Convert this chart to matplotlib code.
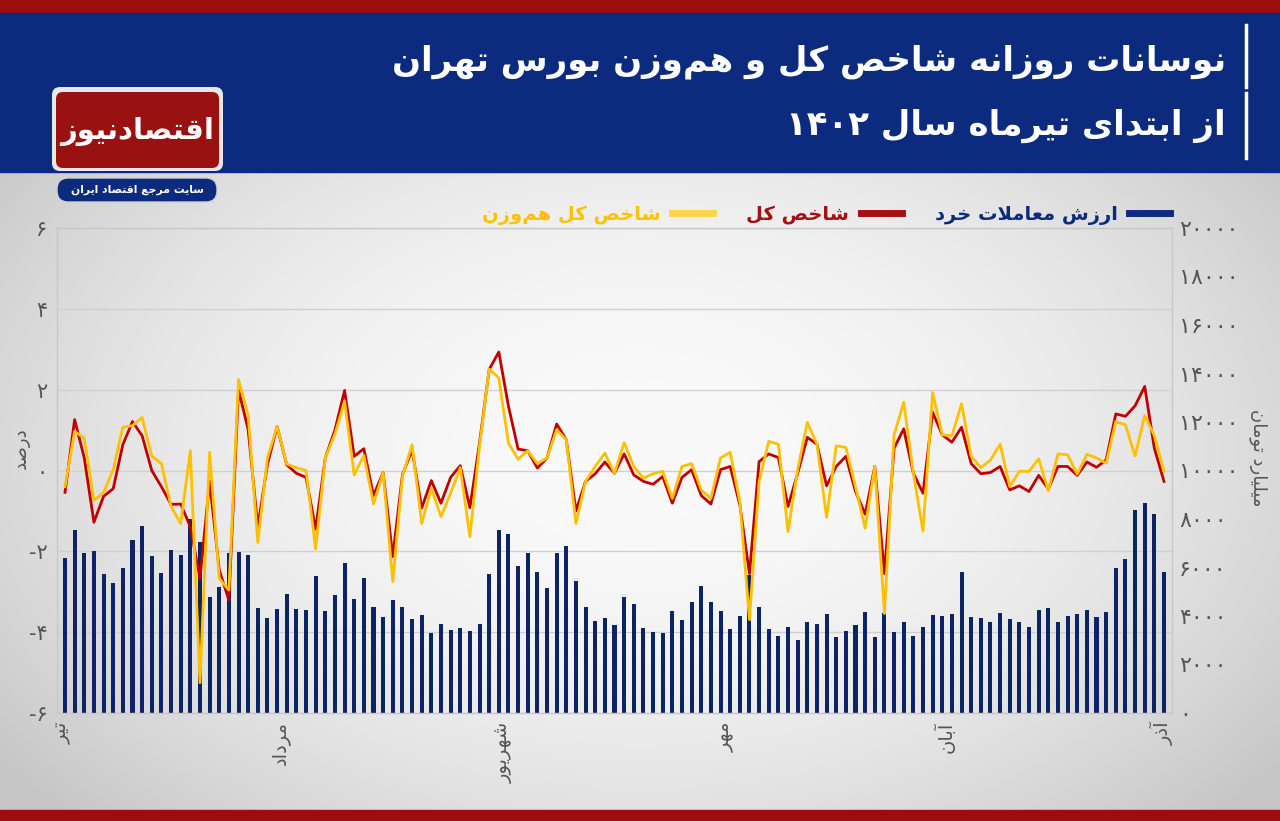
import re
import numpy as np
import matplotlib
matplotlib.use('Agg')
import matplotlib.pyplot as plt
from matplotlib.patches import Rectangle, FancyBboxPatch
from matplotlib.lines import Line2D

# ارزش معاملات خرد (میلیارد تومان)
trade = [6400, 7530, 6600, 6690, 5740, 5370, 6000, 7130, 7700, 6470,
         5770, 6730, 6500, 8010, 7050, 4790, 5180, 6580, 6620, 6530,
         4310, 3910, 4280, 4920, 4270, 4230, 5670, 4190, 4860, 6170,
         4710, 5580, 4390, 3950, 4640, 4370, 3860, 4060, 3280, 3680,
         3430, 3500, 3390, 3650, 5740, 7550, 7390, 6070, 6580, 5830,
         5140, 6580, 6870, 5430, 4370, 3800, 3900, 3610, 4780, 4490,
         3510, 3350, 3310, 4210, 3830, 4590, 5220, 4590, 4200, 3480,
         4020, 5700, 4380, 3470, 3170, 3530, 3000, 3750, 3690, 4090,
         3150, 3370, 3610, 4150, 3150, 4120, 3360, 3760, 3170, 3530,
         4040, 3980, 4100, 5810, 3950, 3900, 3750, 4130, 3860, 3770,
         3530, 4260, 4320, 3760, 3990, 4080, 4260, 3950, 4150, 5980,
         6330, 8390, 8680, 8210, 5810]

# شاخص کل (درصد)
total = [-0.54, 1.26, 0.31, -1.28, -0.64, -0.45, 0.64, 1.21, 0.86, 0.00,
         -0.40, -0.84, -0.83, -1.39, -2.67, -0.27, -2.46, -3.21, 2.00, 1.01,
         -1.39, 0.15, 1.09, 0.14, -0.07, -0.17, -1.45, 0.31, 1.00, 1.98,
         0.35, 0.54, -0.62, -0.05, -2.13, -0.11, 0.51, -0.93, -0.25, -0.81,
         -0.17, 0.12, -0.92, 0.68, 2.50, 2.93, 1.59, 0.53, 0.49, 0.06,
         0.31, 1.15, 0.76, -1.00, -0.27, -0.08, 0.21, -0.07, 0.41, -0.11,
         -0.27, -0.34, -0.15, -0.81, -0.17, 0.02, -0.62, -0.83, 0.02, 0.10,
         -0.85, -2.55, 0.22, 0.41, 0.32, -0.89, -0.07, 0.82, 0.65, -0.38,
         0.10, 0.35, -0.52, -1.08, 0.10, -2.55, 0.55, 1.03, -0.07, -0.56,
         1.44, 0.88, 0.70, 1.07, 0.17, -0.08, -0.05, 0.10, -0.48, -0.38,
         -0.52, -0.12, -0.46, 0.10, 0.10, -0.12, 0.21, 0.08, 0.26, 1.40,
         1.34, 1.60, 2.08, 0.55, -0.27]

# شاخص کل هم‌وزن (درصد)
equal = [-0.40, 0.97, 0.80, -0.74, -0.55, 0.02, 1.07, 1.11, 1.31, 0.36,
         0.17, -0.89, -1.31, 0.49, -5.25, 0.45, -2.67, -2.96, 2.25, 1.36,
         -1.78, 0.31, 1.09, 0.16, 0.07, 0.00, -1.94, 0.31, 0.90, 1.71,
         -0.11, 0.37, -0.83, -0.05, -2.75, -0.15, 0.64, -1.31, -0.44, -1.14,
         -0.56, 0.07, -1.64, 0.60, 2.51, 2.29, 0.68, 0.28, 0.49, 0.17,
         0.31, 1.01, 0.76, -1.31, -0.27, 0.10, 0.43, -0.07, 0.69, 0.10,
         -0.19, -0.08, -0.02, -0.69, 0.10, 0.17, -0.48, -0.69, 0.31, 0.45,
         -0.77, -3.69, -0.27, 0.72, 0.65, -1.51, 0.02, 1.19, 0.65, -1.16,
         0.61, 0.57, -0.40, -1.43, 0.10, -3.54, 0.88, 1.69, -0.07, -1.50,
         1.93, 0.88, 0.86, 1.65, 0.35, 0.07, 0.26, 0.65, -0.40, -0.02,
         -0.02, 0.29, -0.50, 0.41, 0.39, -0.09, 0.40, 0.31, 0.18, 1.21,
         1.13, 0.36, 1.36, 0.86, -0.02]

months = ['تیر', 'مرداد', 'شهریور', 'مهر', 'آبان', 'آذر']
month_pos = [-0.3, 22.3, 45.5, 68.5, 91.3, 113.8]

title1 = 'نوسانات روزانه شاخص کل و هم\u200cوزن بورس تهران'
title2 = 'از ابتدای تیرماه سال ۱۴۰۲'

BLUE = '#0c2466'
RED = '#c00000'
YEL = '#ffc000'
HEAD = '#0d2b7e'
DARKRED = '#9e0d0d'

# --- persian shaping (matplotlib has no bidi / joining)
FORMS = {'ا': (0xFE8D, 0xFE8E), 'آ': (0xFE81, 0xFE82), 'د': (0xFEA9, 0xFEAA),
         'ذ': (0xFEAB, 0xFEAC), 'ر': (0xFEAD, 0xFEAE), 'ز': (0xFEAF, 0xFEB0),
         'ژ': (0xFB8A, 0xFB8B), 'و': (0xFEED, 0xFEEE)}
for ch, base in [('ب', 0xFE8F), ('پ', 0xFB56), ('ت', 0xFE95), ('ث', 0xFE99),
                 ('ج', 0xFE9D), ('چ', 0xFB7A), ('ح', 0xFEA1), ('خ', 0xFEA5),
                 ('س', 0xFEB1), ('ش', 0xFEB5), ('ص', 0xFEB9), ('ض', 0xFEBD),
                 ('ط', 0xFEC1), ('ظ', 0xFEC5), ('ع', 0xFEC9), ('غ', 0xFECD),
                 ('ف', 0xFED1), ('ق', 0xFED5), ('ک', 0xFB8E), ('گ', 0xFB92),
                 ('ل', 0xFEDD), ('م', 0xFEE1), ('ن', 0xFEE5), ('ه', 0xFEE9),
                 ('ی', 0xFBFC)]:
    FORMS[ch] = (base, base + 1, base + 2, base + 3)


def fa(text):
    out = []
    n = len(text)
    i = 0
    while i < n:
        c = text[i]
        if c not in FORMS:
            if c != '\u200c':
                out.append(c)
            i += 1
            continue
        prev = text[i - 1] if i > 0 else ''
        p = prev in FORMS and len(FORMS[prev]) == 4
        if c == 'ل' and i + 1 < n and text[i + 1] in 'اآ':
            lig = (0xFEFB, 0xFEFC) if text[i + 1] == 'ا' else (0xFEF5, 0xFEF6)
            out.append(chr(lig[1] if p else lig[0]))
            i += 2
            continue
        nxt = text[i + 1] if i + 1 < n else ''
        f = FORMS[c]
        q = nxt in FORMS and len(f) == 4
        if p and q:
            g = f[3]
        elif p:
            g = f[1]
        elif q:
            g = f[2]
        else:
            g = f[0]
        out.append(chr(g))
        i += 1
    s = ''.join(out)[::-1]
    return re.sub(r'[0-9\u06F0-\u06F9]+', lambda m: m.group(0)[::-1], s)


def fd(s):
    return str(s).translate(str.maketrans('0123456789', '۰۱۲۳۴۵۶۷۸۹'))


plt.rcParams['font.family'] = ['DejaVu Sans']

fig = plt.figure(figsize=(12.8, 8.21), dpi=100)

# background in pixel coords
bg = fig.add_axes([0, 0, 1, 1], zorder=-10)
bg.set_xlim(0, 1280)
bg.set_ylim(821, 0)
bg.axis('off')
yy, xx = np.mgrid[0:821:2, 0:1280:2]
g = 0.98 - 0.13 * (((xx - 640) / 640) ** 2 + ((yy - 450) / 420) ** 2)
g = np.clip(g, 0.78, 1)
bg.imshow(np.dstack([g, g, g]), extent=[0, 1280, 821, 0], aspect='auto', zorder=0)
bg.add_patch(Rectangle((0, 0), 1280, 13, color=DARKRED, zorder=1))
bg.add_patch(Rectangle((0, 13), 1280, 159, color=HEAD, zorder=1))
bg.add_patch(Rectangle((0, 810), 1280, 11, color=DARKRED, zorder=1))
bg.plot([1246, 1246], [25, 87], color='white', lw=2.5, zorder=2)
bg.plot([1246, 1246], [93, 158], color='white', lw=2.5, zorder=2)
bg.text(1226, 62, fa(title1), color='white', fontsize=24.5, fontweight='bold',
        ha='right', va='center', zorder=3)
bg.text(1226, 126, fa(title2), color='white', fontsize=24.5, fontweight='bold',
        ha='right', va='center', zorder=3)

# logo
bg.add_patch(FancyBboxPatch((52, 87), 171, 84, boxstyle='round,pad=0,rounding_size=8',
                            fc='#e8e8e8', ec='none', zorder=2))
bg.add_patch(FancyBboxPatch((56, 92), 163, 76, boxstyle='round,pad=0,rounding_size=7',
                            fc='#9a1111', ec='none', zorder=3))
bg.text(137, 131, fa('اقتصادنیوز'), color='white', fontsize=21, fontweight='bold',
        ha='center', va='center', zorder=4)
bg.add_patch(FancyBboxPatch((57, 178), 160, 24, boxstyle='round,pad=0,rounding_size=11',
                            fc=HEAD, ec='#d0d0d0', lw=1, zorder=3))
bg.text(137, 190, fa('سایت مرجع اقتصاد ایران'), color='white', fontsize=7.8,
        fontweight='bold', ha='center', va='center', zorder=4)

# chart
x = np.arange(len(trade))
ax = fig.add_axes([57 / 1280, 1 - 713 / 821, (1172 - 57) / 1280, (713 - 228) / 821])
ax.set_facecolor('none')
for v in np.arange(-6, 7, 2):
    ax.axhline((v + 6) / 12 * 20000, color='#d0d0d0', lw=1, zorder=0)
ax.bar(x, trade, width=0.42, color=BLUE, zorder=2)
ax.set_ylim(0, 20000)
ax.set_xlim(-0.83, len(trade) - 1 + 0.83)

ax2 = ax.twinx()
ax2.plot(x, total, color=RED, lw=2, zorder=3)
ax2.plot(x, equal, color=YEL, lw=2, zorder=4)
ax2.set_ylim(-6, 6)
ax2.yaxis.tick_left()
ax2.set_yticks(np.arange(-6, 7, 2))
ax2.set_yticklabels([('-' if v < 0 else '') + fd(abs(v)) for v in range(-6, 7, 2)],
                    fontsize=15, color='#555555')
ax2.tick_params(length=0, pad=7)
for s in ax2.spines.values():
    s.set_visible(False)

# twinx resets the host axis to the left, so move it back afterwards
ax.yaxis.tick_right()
ax.set_yticks(np.arange(0, 20001, 2000))
ax.set_yticklabels([fd(v) for v in range(0, 20001, 2000)], fontsize=16, color='#555555')
ax.set_xticks(month_pos)
ax.set_xticklabels([fa(m) for m in months], rotation=90, fontsize=14, color='#555555',
                   va='top', ha='center')
ax.tick_params(length=0, pad=6)
ax.tick_params(axis='y', pad=5)
for s in ax.spines.values():
    s.set_color('#c8c8c8')
    s.set_linewidth(1)

bg.text(21, 448, fa('درصد'), rotation=90, fontsize=13, color='#555555',
        ha='center', va='center')
bg.text(1258, 458, fa('میلیارد تومان'), rotation=270, fontsize=13, color='#555555',
        ha='center', va='center')

handles = [Line2D([], [], color='#ffd54a', lw=5),
           Line2D([], [], color='#a80f0f', lw=5),
           Line2D([], [], color='#0d2b7e', lw=5)]
labels = [fa('شاخص کل هم\u200cوزن'), fa('شاخص کل'), fa('ارزش معاملات خرد')]
leg = fig.legend(handles, labels, ncol=3, markerfirst=False, frameon=False,
                 loc='center right', bbox_to_anchor=(1170 / 1280, 1 - 215 / 821),
                 borderaxespad=0, borderpad=0,
                 handlelength=2.1, handletextpad=0.6, columnspacing=1.7,
                 prop={'size': 14, 'weight': 'bold'})
for t, c in zip(leg.get_texts(), ['#ffc000', '#a80f0f', '#0d2b7e']):
    t.set_color(c)

fig.savefig('out.png', dpi=100)
